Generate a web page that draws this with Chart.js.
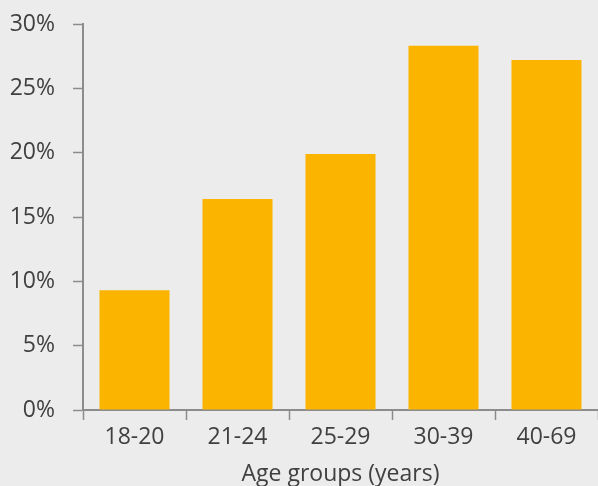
<!DOCTYPE html>
<html>
<head>
<meta charset="utf-8">
<script src="https://cdn.jsdelivr.net/npm/chart.js@4"></script>
<style>
  html, body { margin: 0; padding: 0; background: #ececec; }
  #wrap { width: 598px; height: 486px; }
</style>
</head>
<body>
<div id="wrap"><canvas id="ageChart"></canvas></div>
<script>
// age groups and share of respondents (%)
const ageGroups = ['18-20', '21-24', '25-29', '30-39', '40-69'];
const shares = [9.3, 16.4, 19.9, 28.3, 27.2];
const yTicks = [0, 5, 10, 15, 20, 25, 30];

const axisGray = '#8c8c8c';
const textGray = '#404040';
const font = { family: 'Open Sans', size: 23 };

const ctx = document.getElementById('ageChart').getContext('2d');

const chart = new Chart(ctx, {
  type: 'bar',
  data: {
    labels: ageGroups,
    datasets: [{
      data: shares,
      backgroundColor: '#fbb500',
      borderWidth: 0,
      categoryPercentage: 1,
      barPercentage: 0.68
    }]
  },
  options: {
    responsive: true,
    maintainAspectRatio: false,
    animation: false,
    layout: { autoPadding: false, padding: { top: 24, right: 0, bottom: 0, left: 0 } },
    plugins: {
      legend: { display: false },
      tooltip: { enabled: false }
    },
    scales: {
      x: {
        afterFit: (scale) => { scale.height = 76; },
        grid: {
          offset: true,
          drawOnChartArea: false,
          tickLength: 10,
          tickColor: axisGray,
          tickWidth: 1.5
        },
        border: { color: axisGray, width: 2 },
        ticks: { color: textGray, font: font, padding: 4 },
        title: {
          display: true,
          text: 'Age groups (years)',
          color: textGray,
          font: font,
          padding: { top: 0, bottom: -2 }
        }
      },
      y: {
        min: 0,
        max: 30,
        afterBuildTicks: (scale) => {
          scale.ticks = yTicks.map(v => ({ value: v }));
        },
        afterFit: (scale) => { scale.width = 83; },
        grid: {
          drawOnChartArea: false,
          tickLength: 10,
          tickColor: axisGray,
          tickWidth: 1.5
        },
        border: { color: axisGray, width: 2 },
        ticks: {
          color: textGray,
          font: { family: 'Open Sans', size: 23, lineHeight: 0.4 },
          padding: 18,
          callback: (v) => v + '%'
        }
      }
    }
  }
});
</script>
</body>
</html>
